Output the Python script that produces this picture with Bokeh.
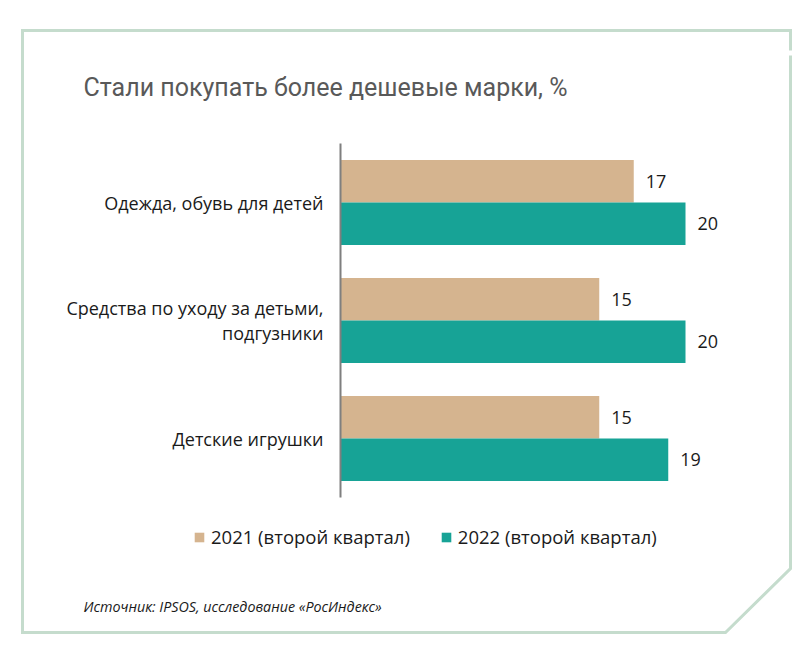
from bokeh.plotting import figure
from bokeh.models import ColumnDataSource, Label, Legend, LegendItem, Range1d
from bokeh.core.properties import value
from bokeh.transform import dodge
from bokeh.embed import file_html
from bokeh.resources import INLINE

# Data
categories = ["Одежда, обувь для детей",
              "Средства по уходу за детьми,\nподгузники",
              "Детские игрушки"]
values_2021 = [17, 15, 15]
values_2022 = [20, 20, 19]
series_names = ["2021 (второй квартал)", "2022 (второй квартал)"]
title_text = "Стали покупать более дешевые марки, %"
source_text = "Источник: IPSOS, исследование «РосИндекс»"

TAN = "#d5b48f"
TEAL = "#17a396"
FRAME = "#c5dccd"
TEXT = "#1a1a1a"

W, H = 803, 655
# value axis: zero at x=340 px, 17.25 px per percentage point
X0, XS = 340, 17.25
# category axis: first category centred at y=202 px, 118 px per category
Y0, YS = 202, 118

p = figure(width=W, height=H, output_backend="svg", toolbar_location=None,
           x_range=Range1d(-X0 / XS, (W - X0) / XS),
           y_range=Range1d((H - Y0) / YS, -Y0 / YS),
           min_border=0, x_axis_location=None, y_axis_location=None)
p.extra_x_ranges = {"px": Range1d(0, W)}
p.extra_y_ranges = {"px": Range1d(H, 0)}
p.background_fill_color = "white"
p.border_fill_color = "white"
p.outline_line_color = None
p.grid.visible = False

# decorative frame (pixel space): small break at the top right, cut lower-right corner
p.multi_line(xs=[[790, 790, 22, 22, 725, 790, 790]],
             ys=[[50, 30, 30, 632, 632, 568, 55]],
             x_range_name="px", y_range_name="px",
             line_color=FRAME, line_width=3, line_join="miter")

pos = list(range(len(categories)))
src = ColumnDataSource(dict(pos=pos, cat=categories, v21=values_2021, v22=values_2022,
                            l21=[str(v) for v in values_2021],
                            l22=[str(v) for v in values_2022]))

r21 = p.hbar(y=dodge("pos", -0.18), right="v21", height=0.36, left=0,
             source=src, fill_color=TAN, line_color=None)
r22 = p.hbar(y=dodge("pos", 0.18), right="v22", height=0.36, left=0,
             source=src, fill_color=TEAL, line_color=None)

for col, lab, off in (("v21", "l21", -0.18), ("v22", "l22", 0.18)):
    p.text(x=col, y=dodge("pos", off), text=lab, source=src,
           x_offset=12, text_baseline="middle", text_align="left",
           text_font_size="18px", text_color=TEXT, text_font=value("Open Sans"))

# category axis: line and labels
p.segment(x0=0, x1=0, y0=-0.5, y1=len(categories) - 0.5,
          line_color="#7f7f7f", line_width=2)
p.text(x=0, y="pos", text="cat", source=src, x_offset=-17,
       text_align="right", text_baseline="middle", text_line_height=1.05,
       text_font=value("Open Sans"), text_font_size="18px", text_color=TEXT)

p.add_layout(Label(x=83, y=87, x_range_name="px", y_range_name="px", text=title_text,
                   text_font="Roboto", text_font_size="25px", text_color="#595959",
                   text_baseline="middle"))
p.add_layout(Label(x=83, y=606, x_range_name="px", y_range_name="px", text=source_text,
                   text_font="Open Sans", text_font_style="italic",
                   text_font_size="14.3px", text_color=TEXT, text_baseline="middle"))

legend = Legend(items=[LegendItem(label=series_names[0], renderers=[r21]),
                       LegendItem(label=series_names[1], renderers=[r22])],
                orientation="horizontal", location=(193, H - 549),
                glyph_width=12, glyph_height=12, label_standoff=6, spacing=30,
                padding=0, margin=0, border_line_color=None,
                background_fill_alpha=0, label_text_font="Open Sans",
                label_text_font_size="18.5px", label_text_color=TEXT, label_height=20)
p.add_layout(legend, "center")

open("out.html", "w").write(file_html(p, INLINE))
